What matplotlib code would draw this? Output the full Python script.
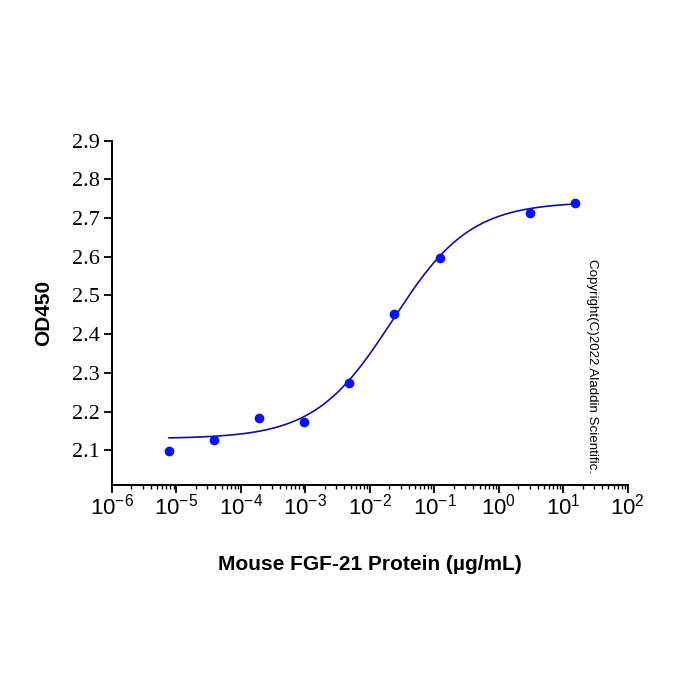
import numpy as np
import matplotlib
matplotlib.use('Agg')
import matplotlib.pyplot as plt
from matplotlib.ticker import LogLocator, FixedLocator, NullFormatter

plt.rcParams['mathtext.fontset'] = 'custom'
plt.rcParams['mathtext.rm'] = 'Liberation Sans'

# data (fivefold dilutions)
conc = [7.68e-6, 3.84e-5, 1.92e-4, 9.6e-4, 4.8e-3, 0.024, 0.12, 3, 15]
od450 = [2.098, 2.126, 2.184, 2.173, 2.275, 2.453, 2.597, 2.713, 2.740]
y_ticks = [2.1, 2.2, 2.3, 2.4, 2.5, 2.6, 2.7, 2.8, 2.9]
x_exps = [-6, -5, -4, -3, -2, -1, 0, 1, 2]

# 4PL fit parameters, estimated from the drawn curve
fit_bottom = 2.13
fit_top = 2.742
fit_logec50 = -1.65
fit_hill = 0.72

xf = np.logspace(np.log10(conc[0]), np.log10(conc[-1]), 300)
yf = fit_bottom + (fit_top - fit_bottom) / (1 + 10 ** ((fit_logec50 - np.log10(xf)) * fit_hill))

fig = plt.figure(figsize=(7, 7), dpi=100)
ax = fig.add_axes([0.16, 0.307, 0.737, 0.492])

ax.plot(xf, yf, color='#1010a0', lw=1.2)
ax.plot(conc, od450, 'o', color='#0a14f0', ms=6)

ax.set_xscale('log')
ax.set_xlim(1e-6, 1e2)
ax.set_ylim(2.01, 2.9)

for s in ['top', 'right']:
    ax.spines[s].set_visible(False)
for s in ['left', 'bottom']:
    ax.spines[s].set_linewidth(1.4)

ax.xaxis.set_major_locator(FixedLocator([10.0 ** e for e in x_exps]))
ax.set_xticklabels([r'$\mathregular{10^{%d}}$' % e for e in x_exps],
                   fontsize=16, family='Liberation Sans')
ax.xaxis.set_minor_locator(LogLocator(base=10, subs=np.arange(2, 10), numticks=20))
ax.xaxis.set_minor_formatter(NullFormatter())
ax.tick_params(axis='x', which='major', length=6, width=1.3, pad=0)
ax.tick_params(axis='x', which='minor', length=3, width=1.0)

ax.set_yticks(y_ticks)
ax.set_yticklabels(['%.1f' % v for v in y_ticks], fontsize=16, family='Liberation Serif')
ax.tick_params(axis='y', which='major', length=6, width=1.3, pad=3)

ax.set_xlabel('Mouse FGF-21 Protein (µg/mL)', fontsize=15, fontweight='bold',
              family='Liberation Sans', labelpad=26)
ax.set_ylabel('OD450', fontsize=15, fontweight='bold', family='Liberation Sans', labelpad=13)

fig.text(0.846, 0.63, 'Copyright(C)2022 Aladdin Scientific.', rotation=270,
         fontsize=9.6, family='Liberation Sans', ha='center', va='top')

fig.savefig('out.png', dpi=100, facecolor='white')
